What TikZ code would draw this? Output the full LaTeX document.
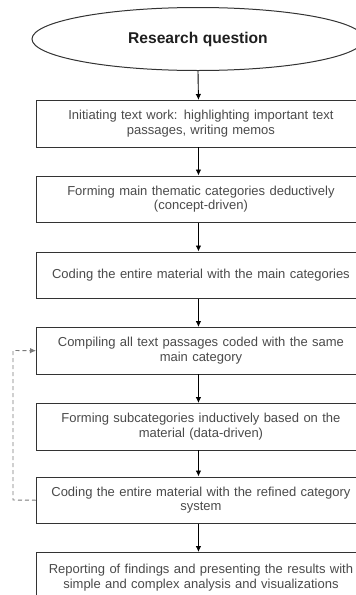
\documentclass[tikz,border=0pt]{standalone}
\usepackage{fontspec}
\setmainfont{Liberation Sans}
\usetikzlibrary{shapes.geometric,arrows.meta,calc}
\definecolor{boxline}{HTML}{333333}
\definecolor{boxtext}{HTML}{4A4A4A}
\definecolor{dashcol}{HTML}{7A7A7A}
\tikzset{
  stepbox/.style={draw=boxline, line width=0.9pt, minimum width=329pt, minimum height=46.5pt,
    inner sep=0pt, align=center, text width=320pt, text=boxtext,
    font=\fontsize{13}{14.5}\selectfont, anchor=north west},
  arr/.style={-{Latex[length=6pt,width=5.5pt]}, line width=0.9pt, draw=black},
  loopline/.style={-{Latex[length=6pt,width=5.5pt]}, line width=0.9pt, draw=dashcol, dash pattern=on 4pt off 3pt},
}
\begin{document}
\begin{tikzpicture}[x=1pt,y=-1pt]
\useasboundingbox (0,0) rectangle (356,595);
\clip (0,0) rectangle (356,595);
\node[ellipse, draw=boxline, line width=1pt, minimum width=332pt, minimum height=63pt, inner sep=0pt,
  font=\bfseries\fontsize{15.6}{17}\selectfont, text=black!88] (rq) at (198,39) {Research question};
\node[stepbox] (b1) at (36,100) {Initiating text work: highlighting important text\\passages, writing memos};
\node[stepbox] (b2) at (36,175.5) {Forming main thematic categories deductively\\(concept-driven)};
\node[stepbox] (b3) at (36,251.5) {Coding the entire material with the main categories};
\node[stepbox] (b4) at (36,327) {Compiling all text passages coded with the same\\main category};
\node[stepbox] (b5) at (36,403) {Forming subcategories inductively based on the\\material (data-driven)};
\node[stepbox] (b6) at (36,476.5) {Coding the entire material with the refined category\\system};
\node[stepbox, minimum height=50pt, anchor=north west] (b7) at (36,552) {\raisebox{3pt}{\parbox{320pt}{\centering Reporting of findings and presenting the results with\\simple and complex analysis and visualizations}}};
\draw[arr] ([xshift=0pt]rq.south) -- ([xshift=-2.5pt]b1.north);
\draw[arr] ([xshift=-2.5pt]b1.south) -- ([xshift=-2.5pt]b2.north);
\draw[arr] ([xshift=-2.5pt]b2.south) -- ([xshift=-2.5pt]b3.north);
\draw[arr] ([xshift=-2.5pt]b3.south) -- ([xshift=-2.5pt]b4.north);
\draw[arr] ([xshift=-2.5pt]b4.south) -- ([xshift=-2.5pt]b5.north);
\draw[arr] ([xshift=-2.5pt]b5.south) -- ([xshift=-2.5pt]b6.north);
\draw[arr] ([xshift=-2.5pt]b6.south) -- ([xshift=-2.5pt]b7.north);
\coordinate (lb) at (13,500);
\coordinate (lt) at (13,350.5);
\draw[loopline] ([yshift=0pt]b6.west) -- (lb) -- (lt) -- (b4.west);
\end{tikzpicture}
\end{document}
